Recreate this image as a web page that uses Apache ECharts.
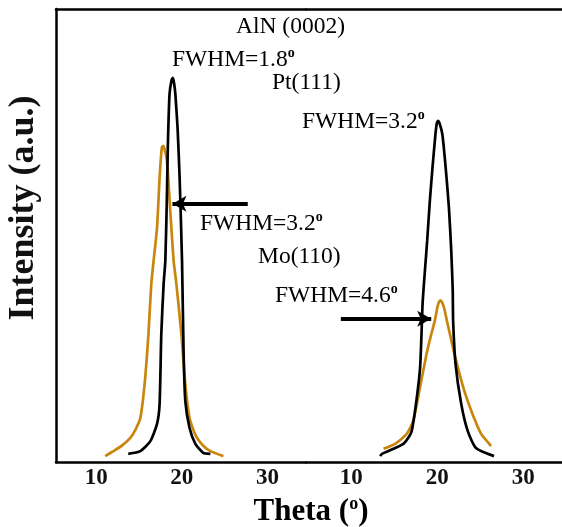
<!DOCTYPE html>
<html><head><meta charset="utf-8">
<script src="https://cdn.jsdelivr.net/npm/echarts@6/dist/echarts.min.js"></script>
<style>html,body{margin:0;padding:0;background:#fff}#c{width:562px;height:527px}</style>
</head><body><div id="c"></div>
<script>
// ---- data ----
const tickLabels = [10, 20, 30];
// Left panel: AlN (0002)
const alnPtTheta = [13.74, 15.15, 16.32, 17.1, 17.4, 17.6, 17.87, 18.07, 18.26, 18.37, 18.56, 18.8, 18.96, 19.1, 19.24, 19.5, 19.74, 20.02, 20.2, 20.4, 20.9, 21.58, 22.5, 23.33];
const alnPtInt   = [1.8, 2.4, 4.6, 8.4, 12.8, 28.3, 39.3, 44.4, 59.2, 70.2, 81.2, 84.3, 84.8, 83.5, 81.2, 73.7, 62.7, 44.4, 24.5, 13.5, 7.5, 4.0, 2.0, 1.8];
const alnMoTheta = [11.05, 12.0, 13.0, 13.98, 14.6, 15.15, 15.65, 16.1, 16.43, 16.7, 17.1, 17.4, 17.65, 17.8, 17.95, 18.26, 18.65, 19.04, 19.36, 19.94, 20.4, 20.9, 21.4, 21.78, 22.5, 23.33, 24.85];
const alnMoInt   = [1.3, 2.4, 3.6, 5.3, 7.2, 9.7, 17.2, 28.3, 39.3, 44.4, 51.7, 62.7, 69.3, 69.8, 69.3, 66.4, 55.4, 44.4, 39.3, 28.3, 17.2, 9.7, 6.8, 5.3, 3.6, 2.4, 1.3];
// Right panel: Pt(111) and Mo(110)
const ptTheta = [13.37, 13.57, 16.06, 17.03, 17.98, 18.3, 18.56, 18.83, 19.14, 19.45, 19.79, 19.95, 20.09, 20.3, 20.6, 20.98, 21.36, 21.63, 21.8, 21.85, 22.13, 22.79, 23.55, 24.5, 26.6];
const ptInt   = [1.3, 1.8, 4.0, 6.8, 20.1, 35.0, 42.0, 48.8, 57.6, 65.0, 72.3, 74.8, 75.3, 74.6, 72.3, 65.0, 56.1, 46.6, 38.0, 31.0, 21.6, 12.8, 6.8, 3.1, 1.3];
const moTheta = [13.76, 15.1, 16.45, 17.21, 17.98, 18.75, 19.25, 19.71, 20.0, 20.2, 20.37, 20.55, 20.8, 21.13, 21.55, 22.0, 23.05, 24.1, 25.1, 26.05, 26.24];
const moInt   = [2.9, 4.0, 6.2, 9.1, 16.3, 23.8, 27.8, 31.1, 34.0, 35.3, 35.7, 35.3, 34.0, 31.1, 27.6, 23.8, 16.3, 10.6, 6.2, 4.0, 3.5];

const zip = (a, b) => a.map((v, i) => [v, b[i]]);
const FONT = '"Liberation Serif","Times New Roman",serif';
const ORANGE = '#c8860f';

const chart = echarts.init(document.getElementById('c'));
const axisLine = {show: true, onZero: false, lineStyle: {color: '#000', width: 2.5}};
const bottomAxis = (g, min, max) => ({
  type: 'value', gridIndex: g, position: 'bottom', min: min, max: max,
  axisLine: axisLine, axisTick: {show: false}, splitLine: {show: false},
  axisLabel: {customValues: tickLabels, fontFamily: FONT, fontSize: 23, fontWeight: 'bold', color: '#111', margin: 5}
});
const topAxis = (g, min, max) => ({
  type: 'value', gridIndex: g, position: 'top', min: min, max: max,
  axisLine: axisLine, axisTick: {show: false}, splitLine: {show: false}, axisLabel: {show: false}
});
const line = (data, color, xi, yi) => ({
  type: 'line', data: data, xAxisIndex: xi, yAxisIndex: yi, symbol: 'none', smooth: 0.2,
  lineStyle: {color: color, width: 2.7}, itemStyle: {color: color}, z: color === '#000' ? 3 : 2
});
const arrow = (from, to) => ({
  silent: true, symbol: ['none', 'arrow'], symbolSize: [12, 14], label: {show: false},
  lineStyle: {color: '#000', width: 4, type: 'solid'},
  data: [[{coord: from}, {coord: to}]]
});
const sup = {fontSize: 14, fontFamily: FONT, fontWeight: 'bold', lineHeight: 27, verticalAlign: 'top', color: '#111'};
const ann = (x, y, main, hasSup) => ({
  type: 'text', x: x, y: y, z: 10,
  style: {
    text: hasSup ? '{m|' + main + '}{s|o}' : '{m|' + main + '}',
    align: 'left', verticalAlign: 'middle',
    rich: {m: {fontSize: 23.5, fontFamily: FONT, lineHeight: 27, color: '#111'}, s: sup}
  }
});

const s0 = line(zip(alnPtTheta, alnPtInt), '#000', 0, 0);
s0.markLine = arrow([27.7, 57], [18.9, 57]);
const s2 = line(zip(ptTheta, ptInt), '#000', 1, 1);
s2.markLine = arrow([8.8, 31.6], [19.3, 31.6]);

chart.setOption({
  animation: false,
  backgroundColor: '#fff',
  grid: [
    {left: 56, top: 9, width: 250, bottom: 65},
    {left: 306, top: 9, width: 258, bottom: 65}
  ],
  xAxis: [bottomAxis(0, 5.3, 34.5), bottomAxis(1, 4.75, 34.5), topAxis(0, 5.3, 34.5), topAxis(1, 4.75, 34.5)],
  yAxis: [
    {type: 'value', gridIndex: 0, min: 0, max: 100, axisLine: {show: true, lineStyle: {color: '#000', width: 2.5}},
     axisTick: {show: false}, axisLabel: {show: false}, splitLine: {show: false}},
    {type: 'value', gridIndex: 1, min: 0, max: 100, show: false}
  ],
  series: [s0, line(zip(alnMoTheta, alnMoInt), ORANGE, 0, 0), s2, line(zip(moTheta, moInt), ORANGE, 1, 1)],
  graphic: [
    ann(236, 27, 'AlN (0002)', false),
    ann(172, 60, 'FWHM=1.8', true),
    ann(272, 83, 'Pt(111)', false),
    ann(302, 122, 'FWHM=3.2', true),
    ann(200, 224, 'FWHM=3.2', true),
    ann(258, 257, 'Mo(110)', false),
    ann(275, 296, 'FWHM=4.6', true),
    {type: 'text', x: 311, y: 512, z: 10,
     style: {text: '{t|Theta (}{s|o}{t|)}', align: 'center', verticalAlign: 'middle',
       rich: {t: {fontSize: 31, fontFamily: FONT, fontWeight: 'bold', lineHeight: 33, color: '#111'},
              s: {fontSize: 18, fontFamily: FONT, fontWeight: 'bold', lineHeight: 33, verticalAlign: 'top', color: '#111'}}}},
    {type: 'text', x: 24, y: 208, rotation: Math.PI / 2, z: 10,
     style: {text: 'Intensity (a.u.)', align: 'center', verticalAlign: 'middle',
       fontSize: 36, fontFamily: FONT, fontWeight: 'bold', fill: '#111'}}
  ]
});
</script></body></html>
